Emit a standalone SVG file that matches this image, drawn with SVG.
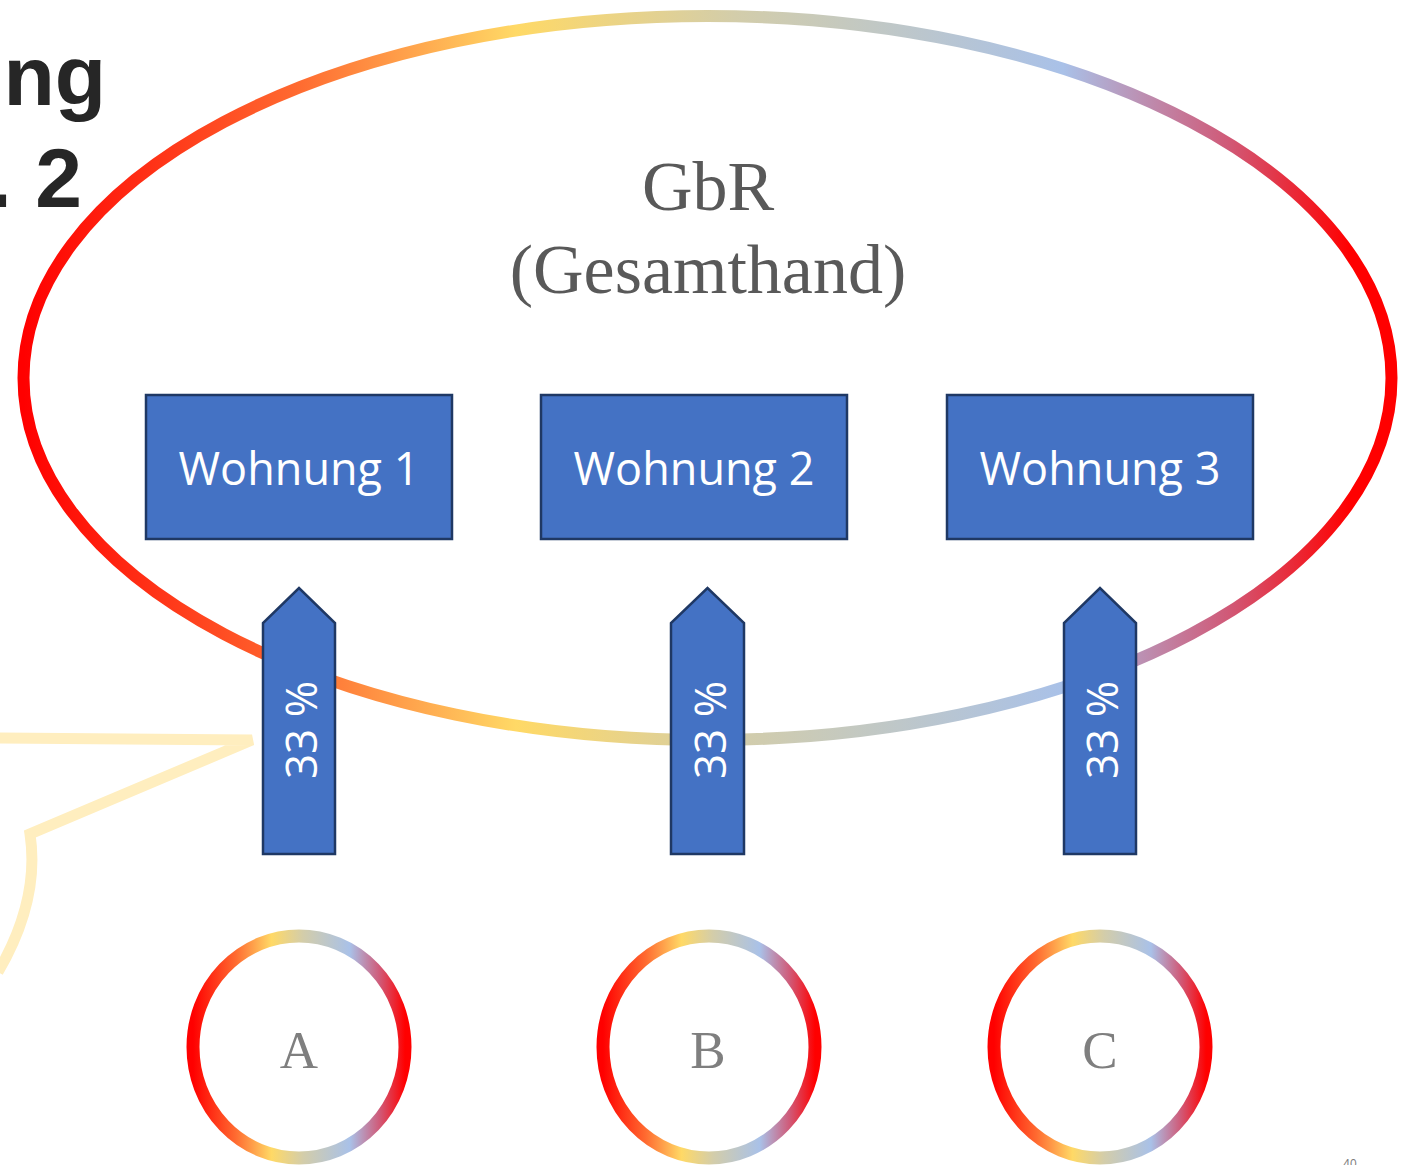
<svg xmlns="http://www.w3.org/2000/svg" width="1409" height="1165" viewBox="0 0 1409 1165">
<defs>
<linearGradient id="gEll" gradientUnits="objectBoundingBox" x1="0" y1="0" x2="1" y2="0">
<stop offset="0" stop-color="#FF0000"/>
<stop offset="0.2" stop-color="#FF6A30"/>
<stop offset="0.36" stop-color="#FFD966"/>
<stop offset="0.52" stop-color="#D3CDAA"/>
<stop offset="0.76" stop-color="#A9C1E8"/>
<stop offset="0.88" stop-color="#D05A78"/>
<stop offset="0.97" stop-color="#FF0000"/>
</linearGradient>
<linearGradient id="gCir" gradientUnits="objectBoundingBox" x1="0" y1="0" x2="1" y2="0">
<stop offset="0" stop-color="#FF0000"/>
<stop offset="0.2" stop-color="#FF6A30"/>
<stop offset="0.37" stop-color="#FFD966"/>
<stop offset="0.52" stop-color="#D3CDAA"/>
<stop offset="0.74" stop-color="#A9C1E8"/>
<stop offset="0.88" stop-color="#D05A78"/>
<stop offset="1" stop-color="#FF0000"/>
</linearGradient>
</defs>
<style>
.title{font-family:"Liberation Sans",Arial,sans-serif;font-weight:bold;font-size:84px;fill:#262626}
.gbr{font-family:"Liberation Serif","Times New Roman",serif;font-size:70px;fill:#595959}
.box{fill:#4472C4;stroke:#1F3864;stroke-width:2.5}
.lbl{font-family:"Open Sans",sans-serif;font-size:45px;fill:#FFFFFF}
.pct{font-family:"Open Sans",sans-serif;font-size:44px;fill:#FFFFFF}
.ring{fill:none;stroke:url(#gCir);stroke-width:13}
.person{font-family:"Liberation Serif","Times New Roman",serif;font-size:53px;fill:#7F7F7F}
</style>
<rect width="1409" height="1165" fill="#FFFFFF"/>
<g id="title">
<text class="title" x="106" y="105" text-anchor="end">ng</text>
<text class="title" x="82" y="207" text-anchor="end">. 2</text>
</g>
<g id="callout">
<path d="M -10 738 L 252 740 L 30 834 Q 40 900 -2 972" fill="none" stroke="#FFEEBF" stroke-width="11" stroke-linejoin="miter"/>
</g>
<g id="gbr">
<ellipse cx="707.5" cy="378" rx="684" ry="362" fill="none" stroke="url(#gEll)" stroke-width="12"/>
<text class="gbr" x="708" y="210" text-anchor="middle">GbR</text>
<text class="gbr" x="708" y="293" text-anchor="middle">(Gesamthand)</text>
</g>
<g id="wohnung1">
<rect class="box" x="146" y="395" width="306" height="144"/>
<text class="lbl" x="299" y="485" text-anchor="middle">Wohnung 1</text>
</g>
<g id="wohnung2">
<rect class="box" x="541" y="395" width="306" height="144"/>
<text class="lbl" x="694" y="485" text-anchor="middle">Wohnung 2</text>
</g>
<g id="wohnung3">
<rect class="box" x="947" y="395" width="306" height="144"/>
<text class="lbl" x="1100" y="485" text-anchor="middle">Wohnung 3</text>
</g>
<g id="connectors">
<g id="arrowA">
<path class="box" d="M 263 854 L 263 623 L 299 588 L 335 623 L 335 854 Z"/>
<text class="pct" transform="translate(317,730) rotate(-90)" text-anchor="middle">33 %</text>
</g>
<g id="arrowB">
<path class="box" d="M 671 854 L 671 623 L 707.5 588 L 744 623 L 744 854 Z"/>
<text class="pct" transform="translate(725.5,730) rotate(-90)" text-anchor="middle">33 %</text>
</g>
<g id="arrowC">
<path class="box" d="M 1064 854 L 1064 623 L 1100 588 L 1136 623 L 1136 854 Z"/>
<text class="pct" transform="translate(1118,730) rotate(-90)" text-anchor="middle">33 %</text>
</g>
</g>
<g id="personA">
<ellipse class="ring" cx="299" cy="1047" rx="106" ry="111"/>
<text class="person" x="299" y="1068" text-anchor="middle">A</text>
</g>
<g id="personB">
<ellipse class="ring" cx="709" cy="1047" rx="106" ry="111"/>
<text class="person" x="708" y="1068" text-anchor="middle">B</text>
</g>
<g id="personC">
<ellipse class="ring" cx="1100" cy="1047" rx="106" ry="111"/>
<text class="person" x="1100" y="1068" text-anchor="middle">C</text>
</g>
<g id="page">
<text x="1350" y="1168" font-family="Liberation Sans,Arial,sans-serif" font-size="12" fill="#7F7F7F" text-anchor="middle">40</text>
</g>
</svg>
